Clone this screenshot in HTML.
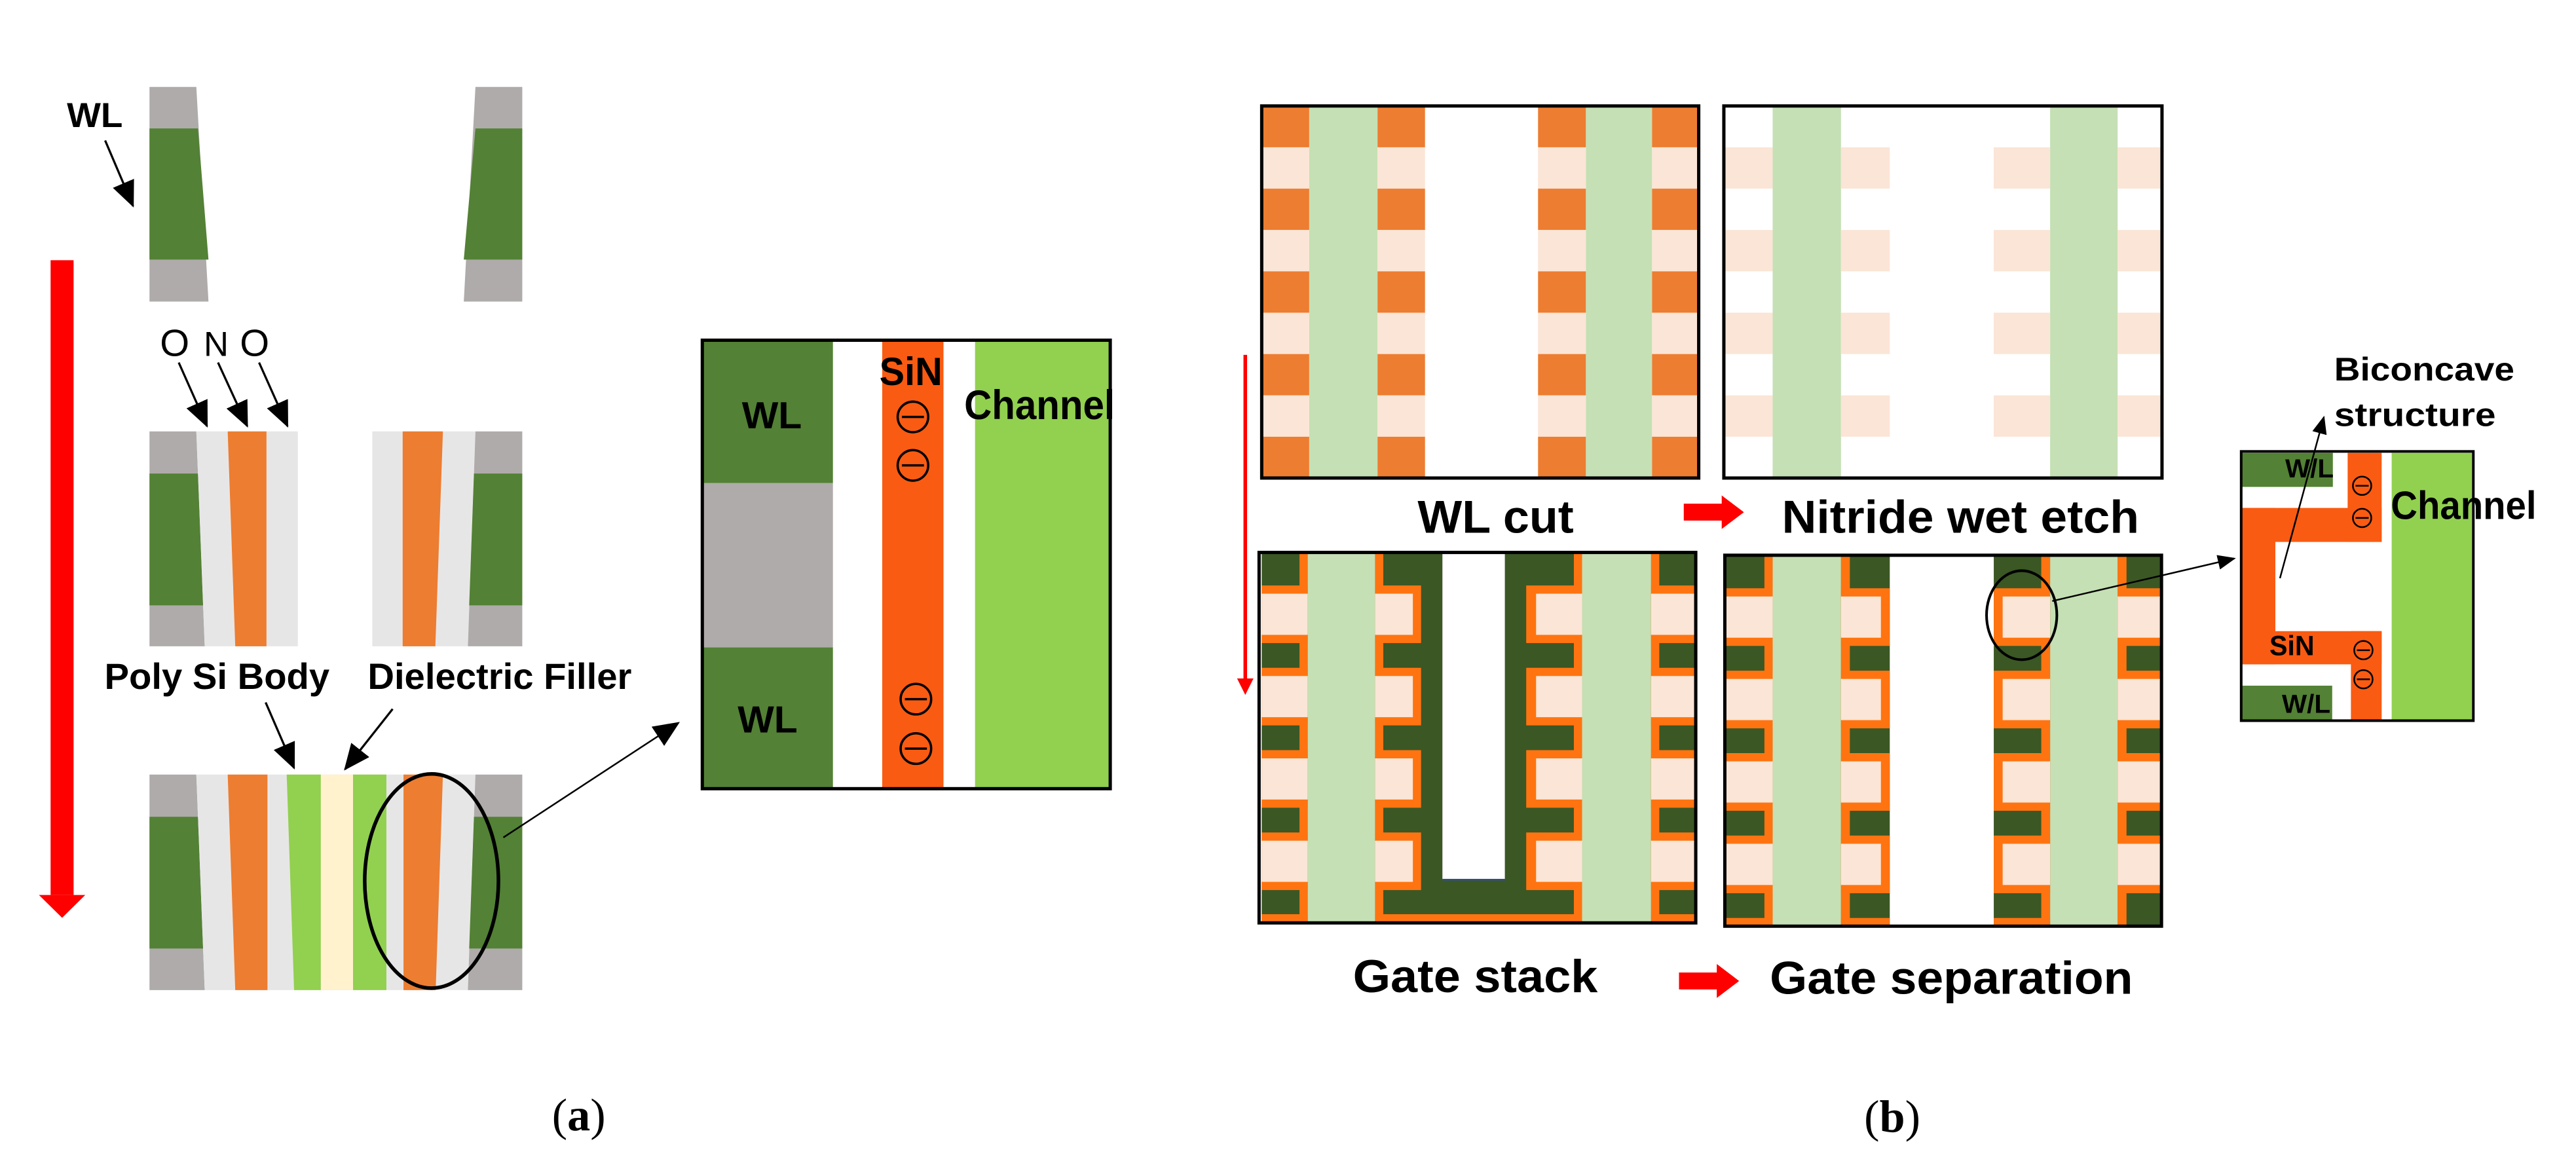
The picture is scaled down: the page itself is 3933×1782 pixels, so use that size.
<!DOCTYPE html>
<html><head><meta charset="utf-8"><style>
html,body{margin:0;padding:0;background:#fff;}
svg{display:block;}
text{font-family:"Liberation Sans",sans-serif;font-weight:bold;fill:#000;}
</style></head><body>
<svg xmlns="http://www.w3.org/2000/svg" width="3933" height="1782" viewBox="0 0 1568 710.4" preserveAspectRatio="none">
<defs>
<marker id="ah" markerUnits="userSpaceOnUse" markerWidth="16" markerHeight="14" refX="15" refY="7" orient="auto"><path d="M0,0 L16,7 L0,14 z" fill="#000"/></marker>
<marker id="as" markerUnits="userSpaceOnUse" markerWidth="11" markerHeight="9" refX="10" refY="4.5" orient="auto"><path d="M0,0 L11,4.5 L0,9 z" fill="#000"/></marker>
<g id="stripeA">
<rect x="0" y="0" width="1" height="25.17" fill="#ed7d31"/>
<rect x="0" y="25.17" width="1" height="25.17" fill="#fbe5d6"/>
<rect x="0" y="50.34" width="1" height="25.17" fill="#ed7d31"/>
<rect x="0" y="75.51" width="1" height="25.17" fill="#fbe5d6"/>
<rect x="0" y="100.68" width="1" height="25.17" fill="#ed7d31"/>
<rect x="0" y="125.85" width="1" height="25.17" fill="#fbe5d6"/>
<rect x="0" y="151.02" width="1" height="25.17" fill="#ed7d31"/>
<rect x="0" y="176.19" width="1" height="25.17" fill="#fbe5d6"/>
<rect x="0" y="201.36" width="1" height="25.17" fill="#ed7d31"/>
</g>
<g id="stripeB" fill="#fbe5d6">
<rect x="0" y="25.17" width="1" height="25.17"/>
<rect x="0" y="75.51" width="1" height="25.17"/>
<rect x="0" y="125.85" width="1" height="25.17"/>
<rect x="0" y="176.19" width="1" height="25.17"/>
</g>
</defs>
<rect width="1568" height="710.4" fill="#fff"/>

<!-- ===== (a) ===== -->
<polygon points="91,52.9 119.5,52.9 126.9,183.6 91,183.6" fill="#afabaa"/>
<polygon points="91,78.2 120.5,78.2 126.9,158 91,158" fill="#538135"/>
<polygon points="289.4,52.9 317.9,52.9 317.9,183.6 282.3,183.6" fill="#afabaa"/>
<polygon points="289.4,78.2 317.9,78.2 317.9,158 282.3,158" fill="#538135"/>
<text x="40.7" y="77.4" font-size="21" textLength="34" lengthAdjust="spacingAndGlyphs">WL</text>
<line x1="64" y1="85.5" x2="81" y2="125.4" stroke="#000" stroke-width="1.3" marker-end="url(#ah)"/>

<rect x="30.8" y="158.4" width="14" height="386.4" fill="#ff0000"/>
<polygon points="23.7,544.8 51.9,544.8 37.8,558.7" fill="#ff0000"/>

<polygon points="91,262.6 119.5,262.6 124.6,393.4 91,393.4" fill="#afabaa"/>
<polygon points="91,288.3 120.5,288.3 123.6,368.5 91,368.5" fill="#538135"/>
<polygon points="119.5,262.6 181.3,262.6 181.3,393.4 124.6,393.4" fill="#e7e6e6"/>
<polygon points="138.6,262.6 162.2,262.6 162.2,393.4 143.2,393.4" fill="#ed7d31"/>
<polygon points="226.6,262.6 289.4,262.6 284.8,393.4 226.6,393.4" fill="#e7e6e6"/>
<polygon points="245.1,262.6 269.6,262.6 265,393.4 245.1,393.4" fill="#ed7d31"/>
<polygon points="289.4,262.6 317.9,262.6 317.9,393.4 284.8,393.4" fill="#afabaa"/>
<polygon points="288.5,288.3 317.9,288.3 317.9,368.5 285.6,368.5" fill="#538135"/>
<text x="97.4" y="216.6" font-size="23" style="font-weight:normal">O</text>
<text x="124" y="216.6" font-size="21" style="font-weight:normal">N</text>
<text x="146" y="216.6" font-size="23" style="font-weight:normal">O</text>
<line x1="108.8" y1="220.7" x2="126" y2="259.4" stroke="#000" stroke-width="1.3" marker-end="url(#ah)"/>
<line x1="132.7" y1="220.7" x2="150.5" y2="259.4" stroke="#000" stroke-width="1.3" marker-end="url(#ah)"/>
<line x1="157.7" y1="220.7" x2="175" y2="259.4" stroke="#000" stroke-width="1.3" marker-end="url(#ah)"/>

<text x="63.6" y="419.4" font-size="22" textLength="137" lengthAdjust="spacingAndGlyphs">Poly Si Body</text>
<text x="223.8" y="419.4" font-size="22" textLength="160.7" lengthAdjust="spacingAndGlyphs">Dielectric Filler</text>
<line x1="161.7" y1="427.6" x2="179" y2="467.5" stroke="#000" stroke-width="1.3" marker-end="url(#ah)"/>
<line x1="239" y1="431.6" x2="210" y2="468.3" stroke="#000" stroke-width="1.3" marker-end="url(#ah)"/>

<polygon points="91,471.5 119.5,471.5 124.6,602.7 91,602.7" fill="#afabaa"/>
<polygon points="91,497.2 120.5,497.2 123.6,577.4 91,577.4" fill="#538135"/>
<polygon points="119.5,471.5 289.4,471.5 284.8,602.7 124.6,602.7" fill="#e7e6e6"/>
<polygon points="138.6,471.5 162.8,471.5 162.8,602.7 143.2,602.7" fill="#ed7d31"/>
<polygon points="174.5,471.5 195.3,471.5 195.3,602.7 179,602.7" fill="#92d050"/>
<rect x="195.3" y="471.5" width="19.6" height="131.2" fill="#fff2cc"/>
<rect x="214.9" y="471.5" width="20.3" height="131.2" fill="#92d050"/>
<polygon points="245.6,471.5 269.6,471.5 265.2,602.7 245.6,602.7" fill="#ed7d31"/>
<polygon points="289.4,471.5 317.9,471.5 317.9,602.7 284.8,602.7" fill="#afabaa"/>
<polygon points="288.5,497.2 317.9,497.2 317.9,577.4 285.6,577.4" fill="#538135"/>
<ellipse cx="262.7" cy="536.3" rx="40.7" ry="65.2" fill="none" stroke="#000" stroke-width="2.2"/>
<line x1="306.4" y1="509.8" x2="413" y2="440" stroke="#000" stroke-width="1" marker-end="url(#ah)"/>

<rect x="428" y="207" width="79" height="87.1" fill="#538135"/>
<rect x="428" y="294.1" width="79" height="100" fill="#afabaa"/>
<rect x="428" y="394.1" width="79" height="86" fill="#538135"/>
<rect x="537" y="207" width="37.3" height="273" fill="#f95b12"/>
<rect x="593.5" y="207" width="82" height="273" fill="#92d050"/>
<rect x="427.5" y="207.1" width="248.3" height="273" fill="none" stroke="#000" stroke-width="2"/>
<text x="451.6" y="260.7" font-size="23" textLength="36.5" lengthAdjust="spacingAndGlyphs">WL</text>
<text x="449" y="445.9" font-size="23" textLength="36.5" lengthAdjust="spacingAndGlyphs">WL</text>
<text x="535.3" y="234.4" font-size="24" textLength="38.3" lengthAdjust="spacingAndGlyphs">SiN</text>
<text x="586.9" y="255.1" font-size="25" textLength="91.7" lengthAdjust="spacingAndGlyphs">Channel</text>
<g fill="none" stroke="#000" stroke-width="1.4">
<circle cx="555.7" cy="253.8" r="9.3"/><line x1="549" y1="253.8" x2="562.4" y2="253.8"/>
<circle cx="555.7" cy="283.3" r="9.3"/><line x1="549" y1="283.3" x2="562.4" y2="283.3"/>
<circle cx="557.5" cy="425.6" r="9.3"/><line x1="550.8" y1="425.6" x2="564.2" y2="425.6"/>
<circle cx="557.5" cy="455.7" r="9.3"/><line x1="550.8" y1="455.7" x2="564.2" y2="455.7"/>
</g>
<text x="336" y="688" font-size="28" style="font-family:'Liberation Serif',serif;font-weight:normal">(<tspan font-weight="bold">a</tspan>)</text>

<!-- ===== (b) ===== -->
<line x1="758" y1="216" x2="758" y2="415" stroke="#ff0000" stroke-width="2.2"/>
<polygon points="753,413 763,413 758,423" fill="#ff0000"/>

<rect x="768.5" y="64.5" width="265" height="226.5" fill="#fff"/>
<rect x="796.9" y="64.5" width="41.6" height="226.5" fill="#c5e0b4"/>
<rect x="965.3" y="64.5" width="40.3" height="226.5" fill="#c5e0b4"/>
<use href="#stripeA" transform="translate(768.5,64.5) scale(28.4,1)"/>
<use href="#stripeA" transform="translate(838.5,64.5) scale(28.9,1)"/>
<use href="#stripeA" transform="translate(936.2,64.5) scale(29.1,1)"/>
<use href="#stripeA" transform="translate(1005.6,64.5) scale(27.5,1)"/>
<rect x="768" y="64.5" width="266" height="226.5" fill="none" stroke="#000" stroke-width="2"/>
<text x="862.9" y="324.4" font-size="28" textLength="95" lengthAdjust="spacingAndGlyphs">WL cut</text>

<rect x="1079" y="64.5" width="41.6" height="226.5" fill="#c5e0b4"/>
<rect x="1247.9" y="64.5" width="41.1" height="226.5" fill="#c5e0b4"/>
<use href="#stripeB" transform="translate(1050,64.5) scale(29,1)"/>
<use href="#stripeB" transform="translate(1120.6,64.5) scale(29.7,1)"/>
<use href="#stripeB" transform="translate(1213.6,64.5) scale(34.3,1)"/>
<use href="#stripeB" transform="translate(1289,64.5) scale(26.6,1)"/>
<rect x="1049.3" y="64.5" width="266.7" height="226.5" fill="none" stroke="#000" stroke-width="2"/>
<text x="1084.6" y="324.4" font-size="28" textLength="217.5" lengthAdjust="spacingAndGlyphs">Nitride wet etch</text>

<rect x="1024.9" y="306.6" width="23.5" height="10.3" fill="#ff0000"/>
<polygon points="1048,301.6 1061.5,311.8 1048,322" fill="#ff0000"/>
<rect x="1022" y="592" width="23.5" height="10.3" fill="#ff0000"/>
<polygon points="1045,586.8 1058.6,597.2 1045,607.5" fill="#ff0000"/>

<g>
<rect x="768" y="336.3" width="264" height="225.5" fill="#fff"/>
<rect x="796" y="336.3" width="41" height="225.5" fill="#c5e0b4"/>
<rect x="963" y="336.3" width="42" height="225.5" fill="#c5e0b4"/>
<rect x="768" y="336.3" width="28" height="225.5" fill="#3b5724"/>
<rect x="837" y="336.3" width="126" height="225.5" fill="#3b5724"/>
<rect x="1005" y="336.3" width="26.5" height="225.5" fill="#3b5724"/>
<rect x="878" y="336.3" width="38" height="199" fill="#fff"/>
<line x1="878" y1="535.5" x2="916" y2="535.5" stroke="#2f4f8f" stroke-width="1"/>
<rect x="791" y="336.3" width="5" height="225.5" fill="#ff7410"/>
<rect x="837" y="336.3" width="5" height="225.5" fill="#ff7410"/>
<rect x="958" y="336.3" width="5" height="225.5" fill="#ff7410"/>
<rect x="1005" y="336.3" width="5" height="225.5" fill="#ff7410"/>
<rect x="837" y="556.5" width="126" height="5" fill="#ff7410"/>
<rect x="768" y="556.5" width="28" height="5" fill="#ff7410"/>
<rect x="1005" y="556.5" width="26.5" height="5" fill="#ff7410"/>
<g id="gsBand">
<rect x="768" y="356.4" width="28" height="35.06" fill="#ff7410"/>
<rect x="768" y="361.4" width="28" height="25.06" fill="#fbe5d6"/>
<rect x="837" y="356.4" width="28" height="35.06" fill="#ff7410"/>
<rect x="837" y="361.4" width="23" height="25.06" fill="#fbe5d6"/>
<rect x="929" y="356.4" width="34" height="35.06" fill="#ff7410"/>
<rect x="935" y="361.4" width="28" height="25.06" fill="#fbe5d6"/>
<rect x="1005" y="356.4" width="26.5" height="35.06" fill="#ff7410"/>
<rect x="1005" y="361.4" width="26.5" height="25.06" fill="#fbe5d6"/>
</g>
<use href="#gsBand" transform="translate(0,50.12)"/>
<use href="#gsBand" transform="translate(0,100.24)"/>
<use href="#gsBand" transform="translate(0,150.36)"/>
</g>
<rect x="766.4" y="336.3" width="265.8" height="225.5" fill="none" stroke="#000" stroke-width="2"/>
<text x="823.5" y="604" font-size="28" textLength="149" lengthAdjust="spacingAndGlyphs">Gate stack</text>

<g>
<rect x="1079" y="338" width="41.6" height="225.8" fill="#c5e0b4"/>
<rect x="1247.9" y="338" width="41.1" height="225.8" fill="#c5e0b4"/>
<rect x="1050" y="338" width="29" height="225.8" fill="#3b5724"/>
<rect x="1120.6" y="338" width="29.7" height="225.8" fill="#3b5724"/>
<rect x="1213.6" y="338" width="34.3" height="225.8" fill="#3b5724"/>
<rect x="1289" y="338" width="26.6" height="225.8" fill="#3b5724"/>
<rect x="1074" y="338" width="5" height="225.8" fill="#ff7410"/>
<rect x="1120.6" y="338" width="5.4" height="225.8" fill="#ff7410"/>
<rect x="1242.5" y="338" width="5.4" height="225.8" fill="#ff7410"/>
<rect x="1289" y="338" width="5.4" height="225.8" fill="#ff7410"/>
<rect x="1050" y="558.8" width="29" height="5" fill="#ff7410"/>
<rect x="1120.6" y="558.8" width="29.7" height="5" fill="#ff7410"/>
<rect x="1213.6" y="558.8" width="34.3" height="5" fill="#ff7410"/>
<g id="sepBand">
<rect x="1050" y="358.1" width="29" height="35.09" fill="#ff7410"/>
<rect x="1050" y="363.1" width="29" height="25.09" fill="#fbe5d6"/>
<rect x="1120.6" y="358.1" width="29.7" height="35.09" fill="#ff7410"/>
<rect x="1120.6" y="363.1" width="24.3" height="25.09" fill="#fbe5d6"/>
<rect x="1213.6" y="358.1" width="34.3" height="35.09" fill="#ff7410"/>
<rect x="1219" y="363.1" width="28.9" height="25.09" fill="#fbe5d6"/>
<rect x="1289" y="358.1" width="26.6" height="35.09" fill="#ff7410"/>
<rect x="1289" y="363.1" width="26.6" height="25.09" fill="#fbe5d6"/>
</g>
<use href="#sepBand" transform="translate(0,50.18)"/>
<use href="#sepBand" transform="translate(0,100.36)"/>
<use href="#sepBand" transform="translate(0,150.54)"/>
</g>
<rect x="1049.9" y="338" width="265.8" height="225.8" fill="none" stroke="#000" stroke-width="2"/>
<ellipse cx="1230.6" cy="374.5" rx="21.4" ry="27.1" fill="none" stroke="#000" stroke-width="1.6"/>
<line x1="1249.2" y1="365.9" x2="1360" y2="340" stroke="#000" stroke-width="1" marker-end="url(#as)"/>
<text x="1077.3" y="605" font-size="28" textLength="221" lengthAdjust="spacingAndGlyphs">Gate separation</text>

<rect x="1364.6" y="275.7" width="140" height="162" fill="#fff"/>
<rect x="1364.6" y="275.7" width="55.4" height="20.7" fill="#538135"/>
<rect x="1364.6" y="417.4" width="55" height="21.3" fill="#538135"/>
<rect x="1429" y="275.7" width="20.7" height="54.2" fill="#f95b12"/>
<rect x="1364.6" y="309.2" width="85.1" height="20.7" fill="#f95b12"/>
<rect x="1364.6" y="309.2" width="20.4" height="95.2" fill="#f95b12"/>
<rect x="1364.6" y="384.2" width="85.1" height="20.2" fill="#f95b12"/>
<rect x="1431" y="384.2" width="18.7" height="54.5" fill="#f95b12"/>
<rect x="1455.8" y="275.7" width="48.8" height="163" fill="#92d050"/>
<rect x="1364.2" y="274.8" width="141.3" height="163.9" fill="none" stroke="#000" stroke-width="1.6"/>
<text x="1391" y="290.7" font-size="16" textLength="29.5" lengthAdjust="spacingAndGlyphs">W/L</text>
<text x="1389" y="434" font-size="16" textLength="29.5" lengthAdjust="spacingAndGlyphs">W/L</text>
<text x="1381.4" y="398.8" font-size="17" textLength="27.4" lengthAdjust="spacingAndGlyphs">SiN</text>
<text x="1455.3" y="316" font-size="24" textLength="88.6" lengthAdjust="spacingAndGlyphs">Channel</text>
<g fill="none" stroke="#000" stroke-width="1">
<circle cx="1437.8" cy="295.7" r="5.6"/><line x1="1433.8" y1="295.7" x2="1441.8" y2="295.7"/>
<circle cx="1437.8" cy="315.3" r="5.6"/><line x1="1433.8" y1="315.3" x2="1441.8" y2="315.3"/>
<circle cx="1438.6" cy="395.8" r="5.6"/><line x1="1434.6" y1="395.8" x2="1442.6" y2="395.8"/>
<circle cx="1438.6" cy="413.5" r="5.6"/><line x1="1434.6" y1="413.5" x2="1442.6" y2="413.5"/>
</g>
<line x1="1387.8" y1="352" x2="1414.5" y2="254" stroke="#000" stroke-width="1" marker-end="url(#as)"/>
<text x="1420.8" y="231.6" font-size="20" textLength="109.7" lengthAdjust="spacingAndGlyphs">Biconcave</text>
<text x="1420.8" y="259.4" font-size="20" textLength="98.4" lengthAdjust="spacingAndGlyphs">structure</text>

<text x="1134.7" y="689" font-size="28" style="font-family:'Liberation Serif',serif;font-weight:normal">(<tspan font-weight="bold">b</tspan>)</text>
</svg>
</body></html>
